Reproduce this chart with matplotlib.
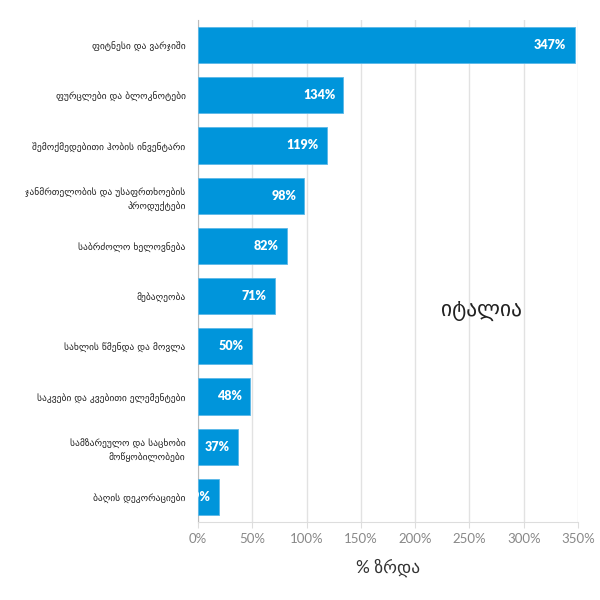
import matplotlib
matplotlib.use("Agg")
import matplotlib.pyplot as plt
from matplotlib.ticker import FuncFormatter

categories = [
    "ფიტნესი და ვარჯიში",
    "ფურცლები და ბლოკნოტები",
    "შემოქმედებითი ჰობის ინვენტარი",
    "ჯანმრთელობის და უსაფრთხოების\nპროდუქტები",
    "საბრძოლო ხელოვნება",
    "მებაღეობა",
    "სახლის წმენდა და მოვლა",
    "საკვები და კვებითი ელემენტები",
    "სამზარეულო და საცხობი\nმოწყობილობები",
    "ბაღის დეკორაციები",
]
values = [347, 134, 119, 98, 82, 71, 50, 48, 37, 19]
x_ticks = [0, 50, 100, 150, 200, 250, 300, 350]
country = "იტალია"
x_label = "% ზრდა"

bar_color = "#0095DB"

fig = plt.figure(figsize=(6, 6), dpi=100)
ax = fig.add_axes([0.33, 0.13, 0.6333, 0.8367])

ypos = list(range(len(categories)))
ax.barh(ypos, values, height=0.72, color=bar_color, edgecolor="#5BB8E8", linewidth=0.6, zorder=3)
ax.set_ylim(len(categories) - 0.5, -0.5)
ax.set_xlim(0, 350)
ax.set_xticks(x_ticks)
ax.xaxis.set_major_formatter(FuncFormatter(lambda v, p: f"{int(v)}%"))
ax.set_yticks(ypos)
ax.set_yticklabels(categories, fontsize=6.8, family=["DejaVu Sans"], color="#222222", linespacing=1.6)
ax.tick_params(axis="y", length=0, pad=9)
ax.tick_params(axis="x", length=4, color="#dddddd", labelsize=9.5, labelcolor="#888888", pad=4)
for lbl in ax.get_xticklabels():
    lbl.set_family(["Lato", "DejaVu Sans"])

ax.grid(axis="x", color="#e2e2e2", linewidth=1, zorder=0)
for s in ["top", "right"]:
    ax.spines[s].set_visible(False)
ax.spines["left"].set_color("#bbbbbb")
ax.spines["bottom"].set_color("#dddddd")

for y, v in zip(ypos, values):
    ax.annotate(f"{v}%", xy=(v, y), xytext=(-6, 0), textcoords="offset points",
                ha="right", va="center", color="white", fontsize=9, fontweight="heavy",
                family=["Lato", "DejaVu Sans"], zorder=4, clip_on=True)

ax.text(0.745, 0.42, country, transform=ax.transAxes, fontsize=15.5, family=["DejaVu Sans"],
        color="#222222", ha="center", va="center")

ax.set_xlabel(x_label, fontsize=12.5, family=["Lato", "DejaVu Sans"], color="#333333", labelpad=10)

fig.savefig("out.png", dpi=100)
